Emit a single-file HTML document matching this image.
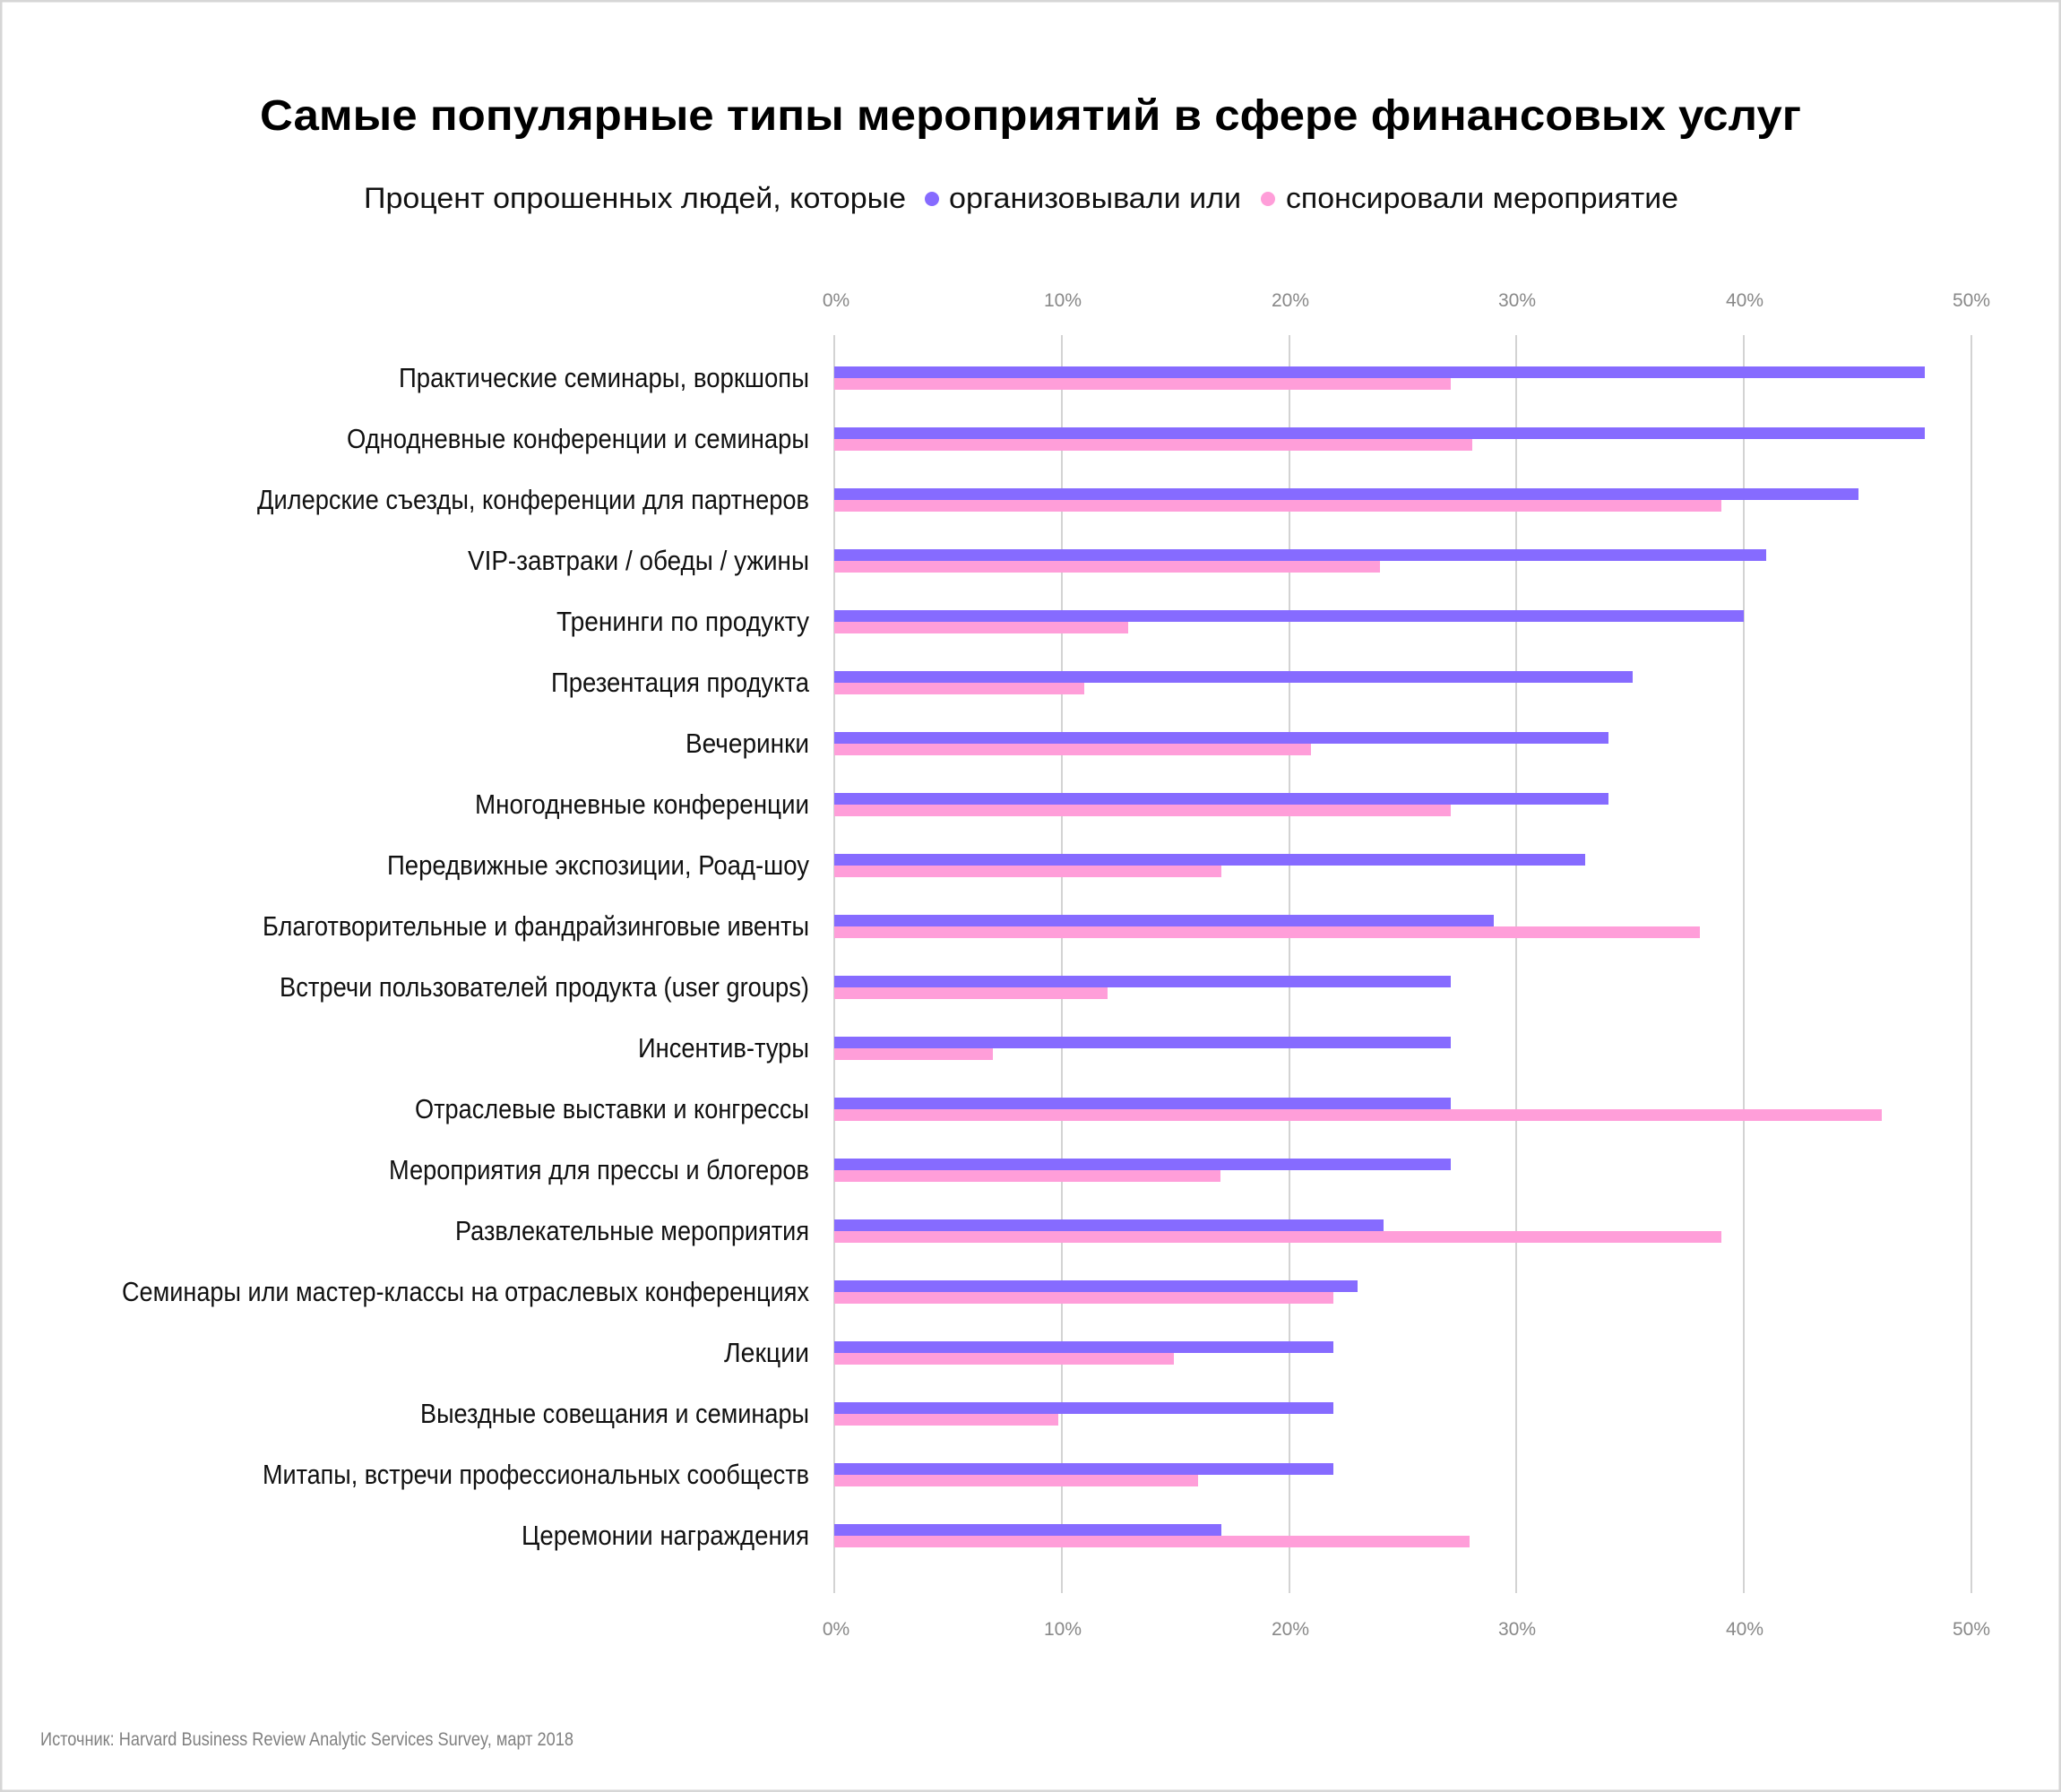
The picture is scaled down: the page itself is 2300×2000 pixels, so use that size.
<!DOCTYPE html>
<html><head><meta charset="utf-8"><style>
html,body{margin:0;padding:0;background:#fff;}
svg{display:block;}
text{font-family:"Liberation Sans Narrow","Liberation Sans","Noto Sans CJK SC",sans-serif;}
</style></head><body>
<svg width="2300" height="2000" viewBox="0 0 2300 2000" xmlns="http://www.w3.org/2000/svg">
<rect x="1" y="1" width="2298" height="1998" fill="#fff" stroke="#d6d6d6" stroke-width="3"/>
<text x="290" y="145" font-size="48" font-weight="bold" fill="#000" textLength="1720" lengthAdjust="spacingAndGlyphs">Самые популярные типы мероприятий в сфере финансовых услуг</text>
<g font-size="32" fill="#111">
<text x="406" y="232" textLength="605" lengthAdjust="spacingAndGlyphs">Процент опрошенных людей, которые</text>
<circle cx="1040" cy="222" r="8" fill="#866bff"/>
<text x="1059" y="232" textLength="326" lengthAdjust="spacingAndGlyphs">организовывали или</text>
<circle cx="1415" cy="222" r="8" fill="#ff9ed9"/>
<text x="1435" y="232" textLength="438" lengthAdjust="spacingAndGlyphs">спонсировали мероприятие</text>
</g>
<g stroke="#d3d3d3" stroke-width="2">
<line x1="931" y1="374" x2="931" y2="1778"/><line x1="1185" y1="374" x2="1185" y2="1778"/><line x1="1439" y1="374" x2="1439" y2="1778"/><line x1="1692" y1="374" x2="1692" y2="1778"/><line x1="1946" y1="374" x2="1946" y2="1778"/><line x1="2200" y1="374" x2="2200" y2="1778"/>
</g>
<g font-size="21" fill="#888" text-anchor="middle">
<text x="933" y="342">0%</text><text x="1186" y="342">10%</text><text x="1440" y="342">20%</text><text x="1693" y="342">30%</text><text x="1947" y="342">40%</text><text x="2200" y="342">50%</text>
<text x="933" y="1825">0%</text><text x="1186" y="1825">10%</text><text x="1440" y="1825">20%</text><text x="1693" y="1825">30%</text><text x="1947" y="1825">40%</text><text x="2200" y="1825">50%</text>
</g>
<g id="bars"></g>
<g id="labels" font-size="31" fill="#111" text-anchor="end"></g>
<text x="45" y="1948" font-size="21" fill="#808080" textLength="595" lengthAdjust="spacingAndGlyphs">Источник: Harvard Business Review Analytic Services Survey, март 2018</text>
<g>
<!-- bars -->
<rect x="931" y="409" width="1217" height="13" fill="#866bff"/><rect x="931" y="422" width="688" height="13" fill="#ff9ed9"/>
<rect x="931" y="477" width="1217" height="13" fill="#866bff"/><rect x="931" y="490" width="712" height="13" fill="#ff9ed9"/>
<rect x="931" y="545" width="1143" height="13" fill="#866bff"/><rect x="931" y="558" width="990" height="13" fill="#ff9ed9"/>
<rect x="931" y="613" width="1040" height="13" fill="#866bff"/><rect x="931" y="626" width="609" height="13" fill="#ff9ed9"/>
<rect x="931" y="681" width="1015" height="13" fill="#866bff"/><rect x="931" y="694" width="328" height="13" fill="#ff9ed9"/>
<rect x="931" y="749" width="891" height="13" fill="#866bff"/><rect x="931" y="762" width="279" height="13" fill="#ff9ed9"/>
<rect x="931" y="817" width="864" height="13" fill="#866bff"/><rect x="931" y="830" width="532" height="13" fill="#ff9ed9"/>
<rect x="931" y="885" width="864" height="13" fill="#866bff"/><rect x="931" y="898" width="688" height="13" fill="#ff9ed9"/>
<rect x="931" y="953" width="838" height="13" fill="#866bff"/><rect x="931" y="966" width="432" height="13" fill="#ff9ed9"/>
<rect x="931" y="1021" width="736" height="13" fill="#866bff"/><rect x="931" y="1034" width="966" height="13" fill="#ff9ed9"/>
<rect x="931" y="1089" width="688" height="13" fill="#866bff"/><rect x="931" y="1102" width="305" height="13" fill="#ff9ed9"/>
<rect x="931" y="1157" width="688" height="13" fill="#866bff"/><rect x="931" y="1170" width="177" height="13" fill="#ff9ed9"/>
<rect x="931" y="1225" width="688" height="13" fill="#866bff"/><rect x="931" y="1238" width="1169" height="13" fill="#ff9ed9"/>
<rect x="931" y="1293" width="688" height="13" fill="#866bff"/><rect x="931" y="1306" width="431" height="13" fill="#ff9ed9"/>
<rect x="931" y="1361" width="613" height="13" fill="#866bff"/><rect x="931" y="1374" width="990" height="13" fill="#ff9ed9"/>
<rect x="931" y="1429" width="584" height="13" fill="#866bff"/><rect x="931" y="1442" width="557" height="13" fill="#ff9ed9"/>
<rect x="931" y="1497" width="557" height="13" fill="#866bff"/><rect x="931" y="1510" width="379" height="13" fill="#ff9ed9"/>
<rect x="931" y="1565" width="557" height="13" fill="#866bff"/><rect x="931" y="1578" width="250" height="13" fill="#ff9ed9"/>
<rect x="931" y="1633" width="557" height="13" fill="#866bff"/><rect x="931" y="1646" width="406" height="13" fill="#ff9ed9"/>
<rect x="931" y="1701" width="432" height="13" fill="#866bff"/><rect x="931" y="1714" width="709" height="13" fill="#ff9ed9"/>
</g>
<g font-size="31" fill="#111" text-anchor="end">
<text x="903" y="432" textLength="458" lengthAdjust="spacingAndGlyphs">Практические семинары, воркшопы</text>
<text x="903" y="500" textLength="516" lengthAdjust="spacingAndGlyphs">Однодневные конференции и семинары</text>
<text x="903" y="568" textLength="616" lengthAdjust="spacingAndGlyphs">Дилерские съезды, конференции для партнеров</text>
<text x="903" y="636" textLength="381" lengthAdjust="spacingAndGlyphs">VIP-завтраки / обеды / ужины</text>
<text x="903" y="704" textLength="282" lengthAdjust="spacingAndGlyphs">Тренинги по продукту</text>
<text x="903" y="772" textLength="288" lengthAdjust="spacingAndGlyphs">Презентация продукта</text>
<text x="903" y="840" textLength="138" lengthAdjust="spacingAndGlyphs">Вечеринки</text>
<text x="903" y="908" textLength="373" lengthAdjust="spacingAndGlyphs">Многодневные конференции</text>
<text x="903" y="976" textLength="471" lengthAdjust="spacingAndGlyphs">Передвижные экспозиции, Роад-шоу</text>
<text x="903" y="1044" textLength="610" lengthAdjust="spacingAndGlyphs">Благотворительные и фандрайзинговые ивенты</text>
<text x="903" y="1112" textLength="591" lengthAdjust="spacingAndGlyphs">Встречи пользователей продукта (user groups)</text>
<text x="903" y="1180" textLength="191" lengthAdjust="spacingAndGlyphs">Инсентив-туры</text>
<text x="903" y="1248" textLength="440" lengthAdjust="spacingAndGlyphs">Отраслевые выставки и конгрессы</text>
<text x="903" y="1316" textLength="469" lengthAdjust="spacingAndGlyphs">Мероприятия для прессы и блогеров</text>
<text x="903" y="1384" textLength="395" lengthAdjust="spacingAndGlyphs">Развлекательные мероприятия</text>
<text x="903" y="1452" textLength="767" lengthAdjust="spacingAndGlyphs">Семинары или мастер-классы на отраслевых конференциях</text>
<text x="903" y="1520" textLength="95" lengthAdjust="spacingAndGlyphs">Лекции</text>
<text x="903" y="1588" textLength="434" lengthAdjust="spacingAndGlyphs">Выездные совещания и семинары</text>
<text x="903" y="1656" textLength="610" lengthAdjust="spacingAndGlyphs">Митапы, встречи профессиональных сообществ</text>
<text x="903" y="1724" textLength="321" lengthAdjust="spacingAndGlyphs">Церемонии награждения</text>
</g>
</svg>
</body></html>
